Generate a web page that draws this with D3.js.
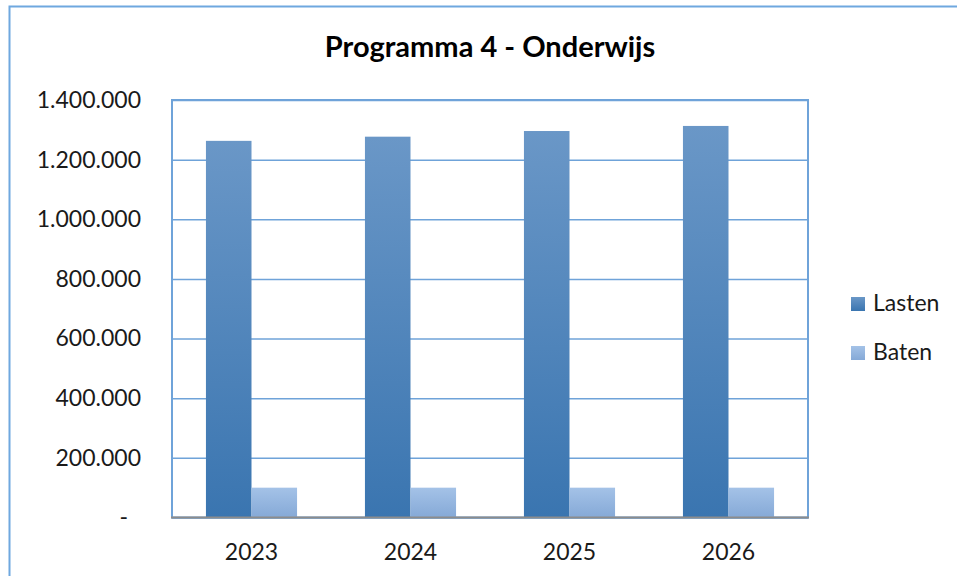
<!DOCTYPE html>
<html>
<head>
<meta charset="utf-8">
<script src="https://cdn.jsdelivr.net/npm/d3@7"></script>
<style>
  body { margin: 0; background: #fff; }
  svg { display: block; font-family: Lato, "Open Sans", sans-serif; }
  .tick text { fill: #1a1a1a; }
</style>
</head>
<body>
<svg width="957" height="576"></svg>
<script>
"use strict";

const years = ["2023", "2024", "2025", "2026"];
const seriesNames = ["Lasten", "Baten"];
const lasten = [1263000, 1277000, 1296000, 1313000];
const baten = [100000, 100000, 100000, 100000];
const yTicks = [0, 200000, 400000, 600000, 800000, 1000000, 1200000, 1400000];

const nl = d3.formatLocale({ decimal: ",", thousands: ".", grouping: [3], currency: ["€", ""] });
const fmt = nl.format(",.0f");

const svg = d3.select("svg");

// outer chart frame (only top + left visible)
svg.append("path")
    .attr("d", "M9.5,576 V6.5 H957")
    .attr("fill", "none")
    .attr("stroke", "#6fa8df")
    .attr("stroke-width", 2);

const plot = { left: 172, top: 100, right: 808, bottom: 517.5 };
const width = plot.right - plot.left;
const height = plot.bottom - plot.top;

const chart = svg.append("g")
    .attr("transform", `translate(${plot.left}, ${plot.top})`);

const xScale = d3.scaleBand()
    .range([0, width])
    .domain(years)
    .paddingInner(0.427)
    .paddingOuter(0.2135);

const xSub = d3.scaleBand()
    .range([0, xScale.bandwidth()])
    .domain(seriesNames);

const yScale = d3.scaleLinear()
    .range([height, 0])
    .domain([0, 1400000]);

const defs = svg.append("defs");
const gradLasten = defs.append("linearGradient")
    .attr("id", "gLasten").attr("x1", 0).attr("y1", 0).attr("x2", 0).attr("y2", 1);
gradLasten.append("stop").attr("offset", "0%").attr("stop-color", "#6a97c7");
gradLasten.append("stop").attr("offset", "100%").attr("stop-color", "#3a75b0");

const gradBaten = defs.append("linearGradient")
    .attr("id", "gBaten").attr("x1", 0).attr("y1", 0).attr("x2", 0).attr("y2", 1);
gradBaten.append("stop").attr("offset", "0%").attr("stop-color", "#a4c2e7");
gradBaten.append("stop").attr("offset", "100%").attr("stop-color", "#85a9d7");

// grid lines
chart.append("g")
    .attr("class", "grid")
    .call(d3.axisLeft(yScale)
        .tickValues(yTicks)
        .tickSize(-width)
        .tickFormat(""))
    .call(g => g.select(".domain").remove())
    .call(g => g.selectAll("line").attr("stroke", "#6fa3d9").attr("stroke-width", 1.5));

// plot frame
chart.append("rect")
    .attr("x", 0).attr("y", 0)
    .attr("width", width).attr("height", height)
    .attr("fill", "none")
    .attr("stroke", "#6fa3d9")
    .attr("stroke-width", 2);

const data = years.map((y, i) => ({ year: y, values: [
    { name: "Lasten", value: lasten[i], fill: "url(#gLasten)" },
    { name: "Baten", value: baten[i], fill: "url(#gBaten)" }
] }));

const barGroups = chart.selectAll(".grp")
    .data(data)
    .enter()
    .append("g")
    .attr("class", "grp")
    .attr("transform", d => `translate(${xScale(d.year)}, 0)`);

barGroups.selectAll("rect")
    .data(d => d.values)
    .enter()
    .append("rect")
    .attr("x", d => xSub(d.name))
    .attr("y", d => yScale(d.value))
    .attr("width", xSub.bandwidth())
    .attr("height", d => height - yScale(d.value))
    .attr("fill", d => d.fill);

// bottom axis line
chart.append("line")
    .attr("x1", -1).attr("x2", width + 1)
    .attr("y1", height).attr("y2", height)
    .attr("stroke", "#8c8c8c")
    .attr("stroke-width", 2);

// y axis labels
const yAxis = chart.append("g")
    .call(d3.axisLeft(yScale)
        .tickValues(yTicks)
        .tickSize(0)
        .tickPadding(31)
        .tickFormat(d => d === 0 ? "-" : fmt(d)));
yAxis.select(".domain").remove();
yAxis.selectAll("text")
    .attr("font-size", 23)
    .attr("font-family", "Lato, sans-serif")
    .attr("dx", d => d === 0 ? -13 : 0);

// x axis labels
const xAxis = chart.append("g")
    .attr("transform", `translate(0, ${height})`)
    .call(d3.axisBottom(xScale).tickSize(0).tickPadding(26));
xAxis.select(".domain").remove();
xAxis.selectAll("text")
    .attr("font-size", 23)
    .attr("font-family", "Lato, sans-serif");

// title
svg.append("text")
    .attr("x", 490)
    .attr("y", 57)
    .attr("text-anchor", "middle")
    .attr("font-size", 29)
    .attr("font-weight", "bold")
    .attr("fill", "#000")
    .text("Programma 4 - Onderwijs");

// legend
const legend = svg.append("g")
    .attr("transform", "translate(851, 297)");
const legendFills = ["url(#gLasten)", "url(#gBaten)"];
const li = legend.selectAll("g")
    .data(seriesNames)
    .enter()
    .append("g")
    .attr("transform", (d, i) => `translate(0, ${i * 49})`);
li.append("rect")
    .attr("width", 14).attr("height", 14)
    .attr("fill", (d, i) => legendFills[i]);
li.append("text")
    .attr("x", 22)
    .attr("y", 14)
    .attr("font-size", 23)
    .attr("fill", "#1a1a1a")
    .text(d => d);
</script>
</body>
</html>
